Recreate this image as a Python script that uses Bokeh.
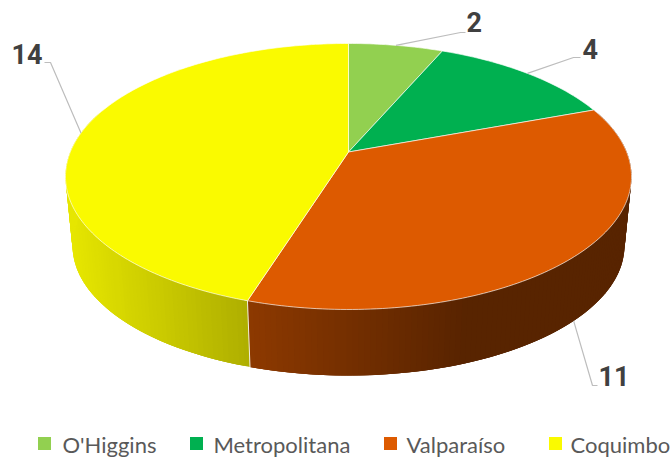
from math import radians, sin, cos

from bokeh.core.properties import value
from bokeh.embed import file_html
from bokeh.models import Range1d
from bokeh.plotting import figure
from bokeh.resources import INLINE

# Cases per region
regions = ["O'Higgins", "Metropolitana", "Valparaíso", "Coquimbo"]
counts = [2, 4, 11, 14]
colors = ["#92D050", "#00B050", "#DD5A00", "#FAFA00"]

# Shade of the rim at its two ends: brightness factor left and right, and where the ramp stops
rim_shades = {"Valparaíso": (0.64, 0.40, 466), "Coquimbo": (0.92, 0.70, 247)}

# Pie projection: screen centre, radii and perspective strength
CX, CY, RX, RY, PERSP = 348.0, 151.5, 278.2, 128.5, 0.184
RIM_DROP, RIM_SCALE = 70.0, 0.975

LABEL_FONT = "Roboto"
LEGEND_FONT = "Lato"


def top_point(theta):
    u, v = sin(radians(theta)), cos(radians(theta))
    w = 1 + PERSP * v
    return CX + RX * u / w, CY - RY * v / w


def bottom_point(theta):
    u, v = sin(radians(theta)), cos(radians(theta))
    w = 1 + PERSP * v
    return CX + RIM_SCALE * RX * u / w, CY + RIM_DROP - RIM_SCALE * RY * v / w


def shade(hex_color, factor):
    r, g, b = (int(hex_color[i:i + 2], 16) for i in (1, 3, 5))
    return "#%02x%02x%02x" % (int(r * factor), int(g * factor), int(b * factor))


def frange(a, b, step):
    n = max(2, int(abs(b - a) / step) + 1)
    return [a + (b - a) * i / (n - 1) for i in range(n)]


total = sum(counts)
edges = [0.0]
for c in counts:
    edges.append(edges[-1] + 360.0 * c / total)

p = figure(width=672, height=460, output_backend="svg", toolbar_location=None,
           x_range=Range1d(0, 672), y_range=Range1d(460, 0), min_border=0,
           x_axis_type=None, y_axis_type=None, outline_line_color=None,
           background_fill_color="white", border_fill_color="white")
p.grid.visible = False

# Rim of the disc: overlapping strips painted in order, so the brightness ramps smoothly across x
for region, color, start, end in zip(regions, colors, edges[:-1], edges[1:]):
    if region not in rim_shades:
        continue
    f_left, f_right, stop_x = rim_shades[region]
    stop = min(end, 290.0) if region == "Coquimbo" else end
    thetas = frange(start, stop, 1.0)
    x_lo = 70.0 if region == "Coquimbo" else top_point(end)[0]
    xs, ys, fills = [], [], []
    for i, a in enumerate(thetas[:-1]):
        b = thetas[min(i + 3, len(thetas) - 1)]
        mid_x = (top_point(a)[0] + top_point(thetas[i + 1])[0]) / 2
        t = min(1.0, max(0.0, (mid_x - x_lo) / (stop_x - x_lo)))
        pts = [top_point(a), top_point(b), bottom_point(b), bottom_point(a)]
        xs.append([pt[0] for pt in pts])
        ys.append([pt[1] for pt in pts])
        fills.append(shade(color, f_left + (f_right - f_left) * t))
    p.patches(xs, ys, fill_color=fills, line_color=None)

# Seam between the two visible rim sections
seam = edges[3]
p.line([top_point(seam)[0], bottom_point(seam)[0]], [top_point(seam)[1], bottom_point(seam)[1]],
       line_color="#f2efe0", line_width=1)

# Top face
for color, start, end in zip(colors, edges[:-1], edges[1:]):
    arc = [top_point(t) for t in frange(start, end, 1.0)]
    p.patch([CX] + [pt[0] for pt in arc], [CY] + [pt[1] for pt in arc],
            fill_color=color, line_color="#ffffff", line_width=0.8, line_alpha=0.8)

# Leader lines and value labels: elbow, end of the leader, text anchor
callouts = [
    ((460, 32), (465, 32), (466, 21), "left"),
    ((573, 57), (580, 57), (582, 48), "left"),
    ((592, 385), (597, 385), (598, 375), "left"),
    ((50, 62), (44, 62), (42, 53), "right"),
]
for (elbow, end_pt, text_pt, align), count, start, end in zip(callouts, counts, edges[:-1], edges[1:]):
    mid = (start + end) / 2
    ax, ay = bottom_point(mid) if count == 11 else top_point(mid)
    p.line([ax, elbow[0], end_pt[0]], [ay, elbow[1], end_pt[1]], line_color="#bdbdbd", line_width=1.2)
    p.text([text_pt[0]], [text_pt[1]], text=[str(count)], text_font=value(LABEL_FONT),
           text_font_size="27px", text_font_style="bold", text_color="#404040",
           text_align=align, text_baseline="middle")

# Legend row
swatch_x = [44, 196, 390, 555]
text_x = [62, 213, 406, 570]
p.rect(swatch_x, [443] * 4, width=13, height=13, fill_color=colors, line_color=None)
p.text(text_x, [444] * 4, text=regions, text_font=value(LEGEND_FONT), text_font_size="22px",
       text_color="#595959", text_align="left", text_baseline="middle")

open("out.html", "w").write(file_html(p, INLINE))
